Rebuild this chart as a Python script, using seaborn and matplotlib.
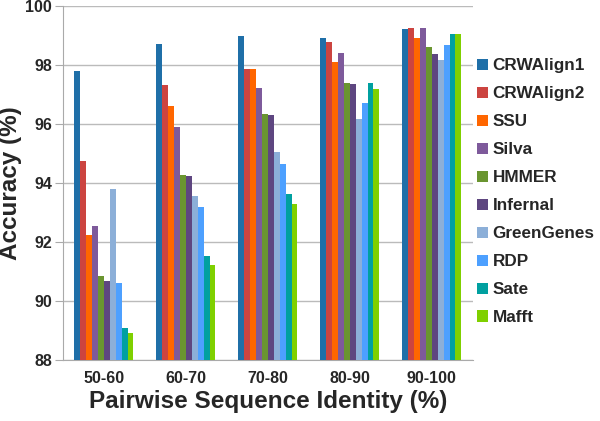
import pandas as pd
import matplotlib.pyplot as plt
import seaborn as sns

groups = ["50-60", "60-70", "70-80", "80-90", "90-100"]
methods = ["CRWAlign1", "CRWAlign2", "SSU", "Silva", "HMMER",
           "Infernal", "GreenGenes", "RDP", "Sate", "Mafft"]

crwalign1 = [97.8, 98.71, 98.98, 98.9, 99.22]
crwalign2 = [94.73, 97.32, 97.85, 98.77, 99.24]
ssu = [92.22, 96.6, 97.85, 98.09, 98.92]
silva = [92.55, 95.9, 97.22, 98.41, 99.26]
hmmer = [90.84, 94.27, 96.35, 97.4, 98.59]
infernal = [90.67, 94.22, 96.3, 97.35, 98.37]
greengenes = [93.8, 93.57, 95.05, 96.17, 98.17]
rdp = [90.6, 93.2, 94.63, 96.7, 98.68]
sate = [89.08, 91.53, 93.63, 97.37, 99.06]
mafft = [88.93, 91.22, 93.29, 97.18, 99.05]

colors = ["#1F6FA8", "#CC4440", "#FF6600", "#7E5A9B", "#6A9530",
          "#5E4680", "#8CAFD8", "#4DA0FF", "#00A0A0", "#7FD000"]

series = [crwalign1, crwalign2, ssu, silva, hmmer, infernal, greengenes, rdp, sate, mafft]
rows = []
for m, vals in zip(methods, series):
    for g, v in zip(groups, vals):
        rows.append({"Identity": g, "Method": m, "Accuracy": v})
df = pd.DataFrame(rows)

sns.set_style("white")
plt.rcParams["font.family"] = ["Liberation Sans", "DejaVu Sans"]

fig = plt.figure(figsize=(6, 4.21), dpi=100)
ax = fig.add_axes([0.105, 0.145, 0.683, 0.841])

sns.barplot(data=df, x="Identity", y="Accuracy", hue="Method", hue_order=methods,
            palette=colors, width=0.72, saturation=1, ax=ax, zorder=3, linewidth=0)

ax.set_ylim(88, 100)
ax.set_yticks(range(88, 101, 2))
ax.yaxis.grid(True, color="#BBBBBB", linewidth=1, zorder=0)
ax.set_axisbelow(True)
for s in ["top", "right"]:
    ax.spines[s].set_visible(False)
ax.spines["left"].set_color("#AAAAAA")
ax.spines["bottom"].set_color("#AAAAAA")
ax.tick_params(axis="y", length=6, color="#AAAAAA", direction="out", left=True, pad=2)
ax.tick_params(axis="x", length=0, pad=8)
for lab in ax.get_xticklabels() + ax.get_yticklabels():
    lab.set_fontweight("bold")
    lab.set_fontsize(11.5)

ax.set_xlabel("Pairwise Sequence Identity (%)", fontsize=17.5, fontweight="bold", labelpad=3)
ax.set_ylabel("Accuracy (%)", fontsize=17.5, fontweight="bold", labelpad=2)

ax.legend(loc="center left", bbox_to_anchor=(1.0, 0.475), frameon=False,
          prop={"weight": "bold", "size": 12.3}, handlelength=0.65, handleheight=0.65,
          handletextpad=0.25, labelspacing=0.76, borderaxespad=0.05, borderpad=0.2)

fig.savefig("out.png", dpi=100)
